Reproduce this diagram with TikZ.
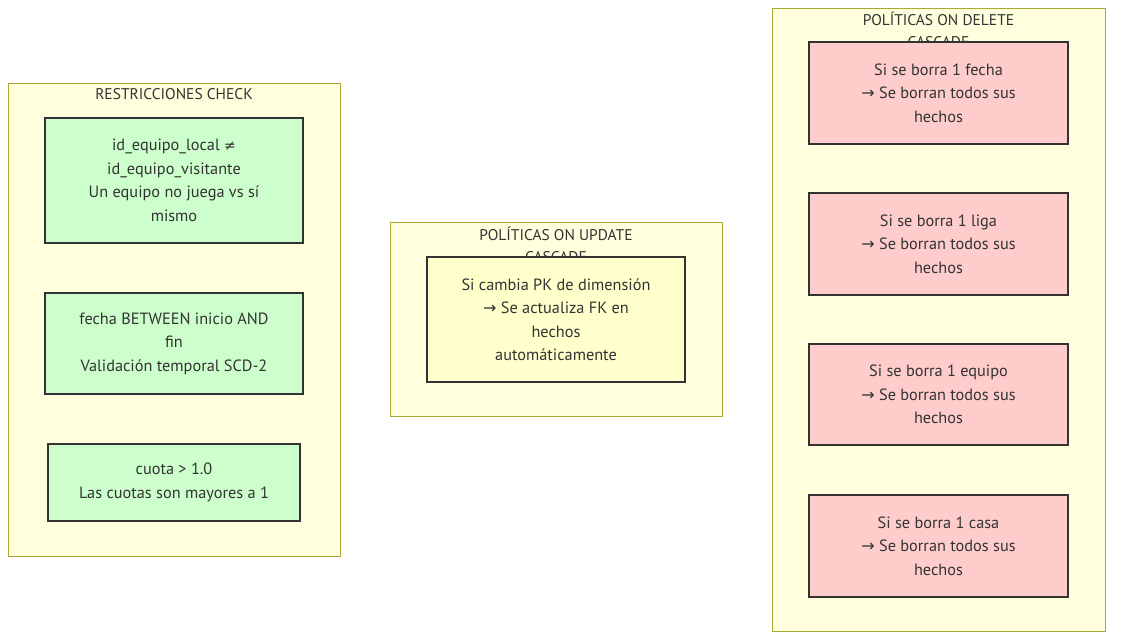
\documentclass[tikz,border=0pt]{standalone}
\usepackage{fontspec}
\setmainfont{PT Sans}
\newfontfamily\symf{DejaVu Sans}
\newcommand{\myarr}{{\symf\fontsize{16}{16}\selectfont→}}
\begin{document}
\begin{tikzpicture}[x=1pt,y=-1pt,
  cluster/.style={draw=clusterline,fill=clusterfill,line width=0.9pt},
  ctitle/.style={anchor=north,align=center,font=\fontsize{15.5}{22}\selectfont,text=txt,inner sep=0pt},
  box/.style={draw=boxline,line width=1.5pt,align=center,font=\fontsize{16.3}{23.5}\selectfont,text=txt,inner sep=0pt},
  greenbox/.style={box,fill=greenfill},
  redbox/.style={box,fill=redfill},
  yelbox/.style={box,fill=yelfill}]
\definecolor{clusterline}{HTML}{AAAA33}
\definecolor{clusterfill}{HTML}{FFFFDE}
\definecolor{boxline}{HTML}{333333}
\definecolor{txt}{HTML}{333333}
\definecolor{greenfill}{HTML}{CCFFCC}
\definecolor{redfill}{HTML}{FFCCCC}
\definecolor{yelfill}{HTML}{FFFFCC}
\useasboundingbox (0,0) rectangle (1121,644);
% left cluster
\path[cluster] (8,83) rectangle (340,556);
\node[ctitle] (t1) at (174,88) {RESTRICCIONES CHECK};
\node[greenbox,minimum width=258,minimum height=125] (g1) at (174,180.5)
  {id\_equipo\_local {\symf\fontsize{14}{14}\selectfont≠}\\id\_equipo\_visitante\\Un equipo no juega vs sí\\mismo};
\node[greenbox,minimum width=258,minimum height=101] (g2) at (174,343.5)
  {fecha BETWEEN inicio AND\\fin\\Validación temporal SCD-2};
\node[greenbox,minimum width=252,minimum height=77] (g3) at (174,482.5)
  {cuota > 1.0\\Las cuotas son mayores a 1};
% middle cluster
\path[cluster] (390,222) rectangle (722,416);
\node[ctitle] (t2) at (556,227) {POLÍTICAS ON UPDATE\\CASCADE};
\node[yelbox,minimum width=258,minimum height=125] (y1) at (556,319.5)
  {Si cambia PK de dimensión\\\myarr{} Se actualiza FK en\\hechos\\automáticamente};
% right cluster
\path[cluster] (772,8) rectangle (1105,631);
\node[ctitle] (t3) at (938.5,12) {POLÍTICAS ON DELETE\\CASCADE};
\node[redbox,minimum width=259,minimum height=102] (r1) at (938.5,93)
  {Si se borra 1 fecha\\\myarr{} Se borran todos sus\\hechos};
\node[redbox,minimum width=259,minimum height=102] (r2) at (938.5,244)
  {Si se borra 1 liga\\\myarr{} Se borran todos sus\\hechos};
\node[redbox,minimum width=259,minimum height=101] (r3) at (938.5,394.5)
  {Si se borra 1 equipo\\\myarr{} Se borran todos sus\\hechos};
\node[redbox,minimum width=259,minimum height=102] (r4) at (938.5,546)
  {Si se borra 1 casa\\\myarr{} Se borran todos sus\\hechos};
\end{tikzpicture}
\end{document}
